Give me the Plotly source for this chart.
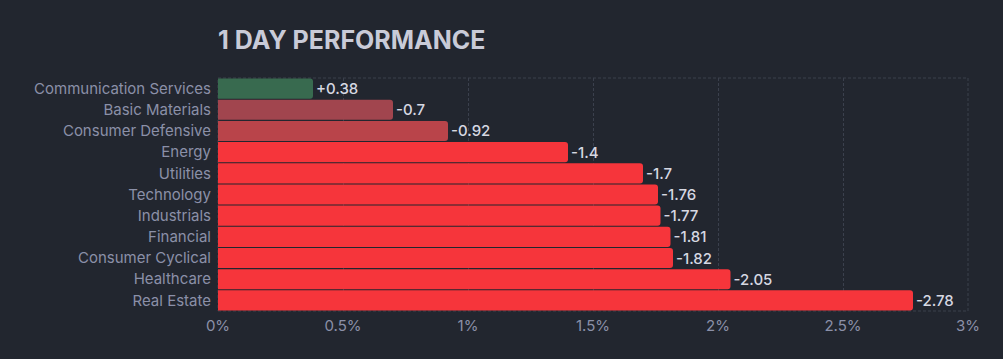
import plotly.graph_objects as go

sectors = ["Communication Services", "Basic Materials", "Consumer Defensive", "Energy",
           "Utilities", "Technology", "Industrials", "Financial", "Consumer Cyclical",
           "Healthcare", "Real Estate"]
changes = [0.38, -0.7, -0.92, -1.4, -1.7, -1.76, -1.77, -1.81, -1.82, -2.05, -2.78]
colors = ["#386a4f", "#a1454e", "#b9444a", "#f6353b", "#f6353b", "#f6353b", "#f6353b",
          "#f6353b", "#f6353b", "#f6353b", "#f6353b"]
x_ticks = [0, 0.5, 1, 1.5, 2, 2.5, 3]
x_tick_labels = ["0%", "0.5%", "1%", "1.5%", "2%", "2.5%", "3%"]

labels = [("+" if v > 0 else "") + f"{v:g}" for v in changes]

fig = go.Figure(go.Bar(
    y=sectors,
    x=[abs(v) for v in changes],
    orientation="h",
    marker=dict(color=colors, cornerradius=3, line=dict(width=0)),
    text=labels,
    textposition="outside",
    constraintext="none",
    textfont=dict(color="#d6d8e2", size=15, family="Inter", weight=500),
    cliponaxis=False,
    hoverinfo="skip",
))

fig.update_layout(
    width=1003, height=359,
    paper_bgcolor="#22262f", plot_bgcolor="#22262f",
    margin=dict(l=218, r=35, t=78, b=48),
    bargap=0.05,
    showlegend=False,
    font=dict(family="Inter", color="#8b90a8", size=15),
    title=dict(text="1 DAY PERFORMANCE", x=218/1003, xanchor="left",
               y=1 - 40/359, yref="container", yanchor="middle",
               font=dict(size=25, color="#c9cbd8", family="Inter", weight=700)),
    shapes=[dict(type="rect", xref="paper", yref="paper", x0=0, x1=1, y0=0, y1=1,
                 line=dict(color="#3b404d", width=1, dash="3px,2px"), layer="below")],
)
fig.update_xaxes(range=[0, 3], tickvals=x_ticks, ticktext=x_tick_labels,
                 showgrid=True, gridcolor="#3b404d", griddash="3px,2px", gridwidth=1,
                 zeroline=False, showline=False, ticks="", ticklen=0,
                 ticklabelstandoff=4,
                 tickfont=dict(size=15, color="#8b90a8"))
fig.update_yaxes(autorange="reversed", showgrid=False, zeroline=False, showline=False,
                 ticks="", ticklabelstandoff=6,
                 tickfont=dict(size=15, color="#8b90a8"))

fig.write_html("out.html", config={"displayModeBar": False},
               post_script="document.body.style.margin='0';document.body.style.background='#22262f';")
